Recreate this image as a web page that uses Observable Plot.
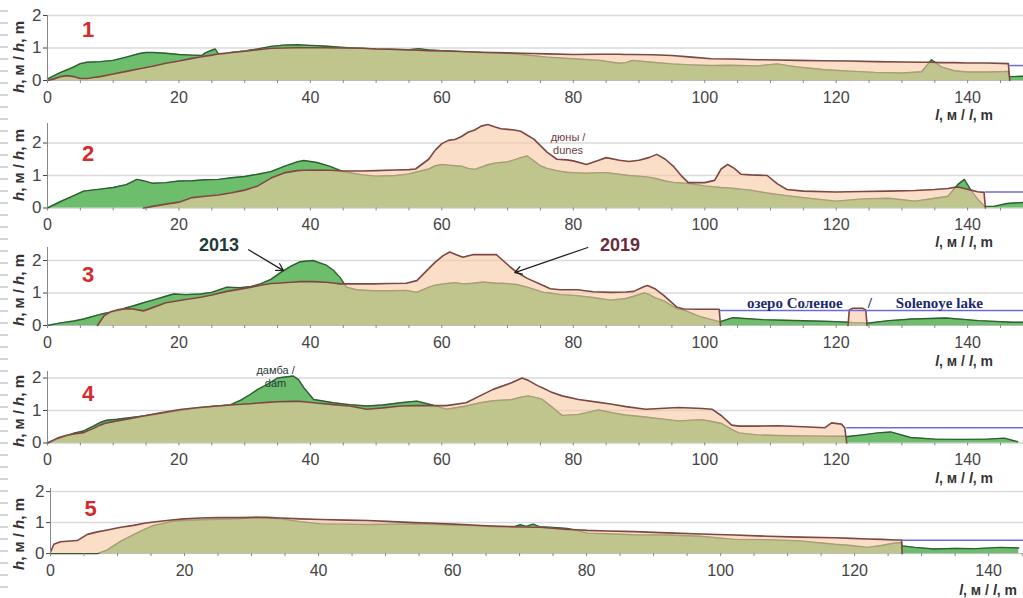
<!DOCTYPE html>
<html><head><meta charset="utf-8">
<script src="https://cdn.jsdelivr.net/npm/d3@7"></script>
<script src="https://cdn.jsdelivr.net/npm/@observablehq/plot@0.6"></script>
<style>
body{margin:0;background:#fff;font-family:"Liberation Sans",Arial,sans-serif;}
#chart{position:relative;width:1023px;height:598px;overflow:hidden;background:#fff;}
.ylab{position:absolute;left:18px;transform:translate(-50%,-50%) rotate(-90deg);font-weight:bold;font-size:15px;line-height:1;white-space:nowrap;color:#333;}
.xlab{position:absolute;font-weight:bold;font-size:14px;line-height:1;white-space:nowrap;color:#333;transform:translateY(-50%);}
.ruler{position:absolute;left:0;top:0;width:8px;height:598px;background:repeating-linear-gradient(to bottom,transparent 0 10px,#d4d4d4 10px 12px);}
</style></head><body><div id="chart"><div class="ruler"></div></div>
<script>
// ---------- data (distance l, m ; height h, m) ----------
const p1x = [0,1,2,3,4,5,6,7,8,10,12,14,15,16,18,20,22,23.5,24,25,25.5,26,27,28,30,32,33,34,36,38,40,42,45,48,50,52,55,56.5,58,60,63,66,70,72,74,76,80,84,87,88,89,92,95,98,101,104,108,111,114,118,122,126,130,133,134.5,136,138,140,143,146.2,146.4,148.5];
const p1h2013 = [0.05,0.15,0.25,0.33,0.42,0.52,0.56,0.57,0.58,0.62,0.72,0.83,0.86,0.86,0.84,0.80,0.78,0.77,0.85,0.93,0.97,0.82,0.82,0.86,0.91,0.97,1.01,1.05,1.09,1.10,1.08,1.06,1.02,0.99,0.97,0.96,0.95,0.98,0.94,0.92,0.89,0.86,0.84,0.80,0.76,0.72,0.67,0.62,0.53,0.55,0.62,0.56,0.51,0.48,0.46,0.47,0.45,0.51,0.42,0.34,0.29,0.25,0.23,0.27,0.64,0.42,0.30,0.26,0.26,0.28,0.12,0.13];
const p1h2019 = [0,0.05,0.12,0.15,0.12,0.06,0.06,0.09,0.12,0.20,0.28,0.36,0.40,0.44,0.53,0.60,0.68,0.73,0.75,0.78,0.80,0.82,0.84,0.86,0.90,0.95,0.97,0.99,1.00,1.01,1.01,1.01,1.00,0.99,0.97,0.96,0.94,0.93,0.92,0.91,0.89,0.87,0.85,0.84,0.83,0.82,0.80,0.81,0.81,0.80,0.80,0.79,0.77,0.72,0.67,0.66,0.64,0.63,0.62,0.61,0.60,0.58,0.57,0.56,0.56,0.55,0.55,0.54,0.54,0.52,0,null];

const p2x = [0,2,4,5.5,8,10,12,13.6,14.6,16,18,20,22,24,26,28,30,32,34,36,38,39,41,43,45,48,50,53,55,56,58,59,60,61,62,63,64,65,66,67,68,69,70,71,72,73,74,75,76,77.5,79,80,82,84,85,87,88.5,90,91.5,92.7,94,95.2,96.5,97.5,100,101.5,102.5,103.5,104.5,105.5,107,109.5,111,112.5,115,120,124,128,132,135,137,138.5,139.5,140.5,141.5,142.5,142.7,144,146,148.5];
const p2h2013 = [0,0.2,0.38,0.52,0.58,0.63,0.72,0.88,0.84,0.76,0.78,0.83,0.84,0.87,0.88,0.93,0.97,1.04,1.12,1.28,1.42,1.46,1.40,1.28,1.12,1.02,0.98,1.0,1.05,1.10,1.2,1.3,1.34,1.32,1.30,1.29,1.22,1.19,1.26,1.33,1.38,1.40,1.42,1.48,1.55,1.60,1.45,1.30,1.22,1.15,1.10,1.09,1.07,1.09,1.09,1.04,1.0,0.98,0.95,0.90,0.83,0.79,0.77,0.76,0.68,0.65,0.63,0.62,0.60,0.58,0.55,0.46,0.42,0.38,0.32,0.21,0.28,0.30,0.21,0.30,0.36,0.72,0.88,0.55,0.28,0.07,0.05,0.05,0.14,0.17];
const p2h2019 = [null,null,null,null,null,null,null,null,0,0.05,0.12,0.18,0.32,0.36,0.40,0.47,0.55,0.68,0.92,1.08,1.15,1.16,1.17,1.16,1.14,1.14,1.15,1.17,1.18,1.20,1.5,1.78,1.98,2.08,2.11,2.2,2.33,2.4,2.52,2.57,2.5,2.44,2.42,2.40,2.36,2.24,2.12,1.92,1.72,1.50,1.48,1.45,1.34,1.48,1.55,1.47,1.43,1.47,1.55,1.65,1.5,1.29,0.98,0.78,0.78,0.85,1.2,1.34,1.22,1.04,1.02,1.0,0.75,0.57,0.52,0.49,0.51,0.52,0.54,0.57,0.60,0.65,0.60,0.55,0.50,0.48,0,null,null,null];

const p3x = [0,2,4,5.5,7.6,8.6,9.6,10.6,12,13,14.6,16,18,19.2,21,23.3,25,27.3,29.3,31,32.4,34,35.4,37,38.4,40.4,42.4,43.5,44.5,45.5,47,49.6,52,54.6,56.2,58,59,60.2,61.2,62.2,63.2,64.7,66.3,68.3,69.3,70.4,71.4,73,75.5,76.5,78,80.6,83,85.7,88,89.2,90.8,91.3,92.5,93.8,95.8,96.8,99.2,102.2,102.4,104.3,108.9,112,116.5,120,121.8,122,122.5,124,124.5,124.7,128,131.6,136.7,141.7,146.8,148.5];
const p3h2013 = [0,0.08,0.14,0.2,0.32,0.37,0.41,0.45,0.55,0.6,0.70,0.78,0.90,0.97,0.95,0.97,1.02,1.18,1.16,1.2,1.28,1.42,1.62,1.82,1.96,2.0,1.86,1.70,1.48,1.18,1.10,1.07,1.07,1.08,1.02,1.18,1.24,1.28,1.3,1.32,1.28,1.30,1.34,1.30,1.30,1.28,1.26,1.18,1.02,1.0,0.95,0.92,0.86,0.78,0.83,0.9,1.0,0.98,0.85,0.76,0.51,0.48,0.28,0.12,0.12,0.24,0.18,0.16,0.14,0.12,0.10,0.1,0.09,0.08,0.07,0.07,0.15,0.2,0.23,0.15,0.1,0.1];
const p3h2019 = [null,null,null,null,0,0.3,0.42,0.48,0.52,0.51,0.45,0.55,0.70,0.74,0.80,0.87,0.94,1.05,1.12,1.18,1.24,1.29,1.31,1.33,1.35,1.35,1.33,1.31,1.28,1.28,1.28,1.28,1.29,1.30,1.38,1.75,1.95,2.15,2.26,2.18,2.1,2.18,2.18,2.18,2.0,1.80,1.64,1.45,1.22,1.13,1.10,1.10,1.04,1.02,1.03,1.05,1.20,1.23,1.12,0.92,0.56,0.51,0.50,0.50,0,null,null,null,null,null,0,0.48,0.53,0.53,0.48,0,null,null,null,null,null,null];

const p4x = [0,1.5,2.9,4,5.5,7,8,9,10.6,12.5,14.6,17,20.2,23,25.3,27.8,29.5,30.9,32,33.4,35,37.4,38.2,39,40.5,43.5,46,48.6,51,53.7,56.2,58.7,60.7,63.7,65.8,67.8,70.7,72.2,73.2,74.7,75.3,76.5,78.3,80.8,83.9,85.9,88,91,96,99.6,101.1,102.6,104.1,105.2,108,111.2,115,118.3,119.3,120.8,121.3,121.6,121.8,124,126.3,128.3,131.3,135,139,143,145.6,147.6];
const p4h2013 = [0,0.12,0.21,0.3,0.37,0.52,0.63,0.70,0.73,0.78,0.83,0.9,1.0,1.08,1.13,1.17,1.33,1.5,1.65,1.8,2.0,2.06,1.95,1.70,1.34,1.24,1.18,1.14,1.17,1.24,1.29,1.16,1.04,1.14,1.24,1.30,1.34,1.42,1.45,1.38,1.34,1.15,0.85,0.88,1.02,0.93,0.86,0.80,0.68,0.72,0.66,0.60,0.42,0.31,0.25,0.23,0.22,0.21,0.21,0.21,0.21,0.2,0.2,0.25,0.31,0.34,0.17,0.12,0.11,0.12,0.15,0.04];
const p4h2019 = [0,0.15,0.24,0.28,0.32,0.45,0.55,0.62,0.68,0.75,0.83,0.92,1.03,1.09,1.13,1.17,1.19,1.21,1.23,1.25,1.27,1.28,1.28,1.27,1.24,1.18,1.14,1.04,1.08,1.14,1.15,1.15,1.15,1.24,1.45,1.65,1.86,2.0,1.92,1.75,1.70,1.58,1.45,1.34,1.25,1.19,1.12,1.04,1.09,1.06,1.04,0.83,0.55,0.52,0.52,0.53,0.5,0.47,0.62,0.58,0.47,0,null,null,null,null,null,null,null,null,null,null];

const p5x = [0,0.5,1.5,2.5,4,5.5,7,8.5,9.4,10.5,12.4,14,15.4,17.4,18.4,20,22.4,25,28,30.8,32.3,34.3,37.3,40.3,44,47.3,51,54.2,57.2,60,62.2,65,67.2,69,70.1,71,72,73,75,77.1,78.5,80.1,83,87.1,92,97,102,107,111.9,117,119.5,121.9,124,126,127,127.1,129,131.8,135,138,141.8,144.5];
const p5h2013 = [0,0,0,0,0,0,0,0.12,0.25,0.4,0.61,0.78,0.91,1.0,1.05,1.07,1.09,1.11,1.12,1.17,1.15,1.12,1.03,0.96,0.95,0.94,0.95,0.96,0.94,0.92,0.91,0.88,0.86,0.85,0.93,0.88,0.95,0.87,0.84,0.81,0.75,0.66,0.64,0.61,0.60,0.56,0.46,0.45,0.41,0.30,0.26,0.2,0.26,0.34,0.36,0.25,0.2,0.15,0.17,0.16,0.2,0.18];
const p5h2019 = [0.05,0.3,0.38,0.4,0.42,0.62,0.7,0.76,0.8,0.85,0.91,0.98,1.02,1.07,1.09,1.12,1.15,1.16,1.16,1.17,1.17,1.15,1.12,1.1,1.08,1.07,1.03,1.0,0.98,0.95,0.93,0.9,0.88,0.87,0.86,0.86,0.85,0.85,0.82,0.78,0.77,0.75,0.73,0.71,0.67,0.63,0.6,0.56,0.53,0.51,0.49,0.47,0.46,0.44,0.44,0,null,null,null,null,null,null];

// water level (lake) segments
const waterLevel = [0.46, 0.49, 0.46, 0.47, 0.43];
const waterFrom  = [146.4, 142.7, 102.4, 121.6, 127.1];
const waterTo    = [148.5, 148.5, 148.5, 148.5, 145.2];

const panelNames = ["1","2","3","4","5"];
const xTickLabels = [0,20,40,60,80,100,120,140];
const yTickLabels = [0,1,2];

// annotations
const labelYears = ["2013","2019"];
const labelDunes = "дюны /\ndunes";
const labelDam = "дамба /\ndam";
const labelLake = ["озеро Соленое","/","Solenoye lake"];

// ---------- layout ----------
const GREEN="#6cbd6c", DKGREEN="#2f5d34", PEACH="#f8c8a3", BROWN="#7b4843", BLUE="#6c6cd8", GRID="#dadada";
const layout = [
  {y0:80,  k:32.5, ymax:2.0, ml:47, xmax:148.5, num:[6.2,1.57], yl:57,  xl:115, xr:30},
  {y0:207, k:32.5, ymax:2.6, ml:47, xmax:148.5, num:[6.2,1.66], yl:165, xl:242, xr:30},
  {y0:325, k:32.5, ymax:2.4, ml:47, xmax:148.5, num:[6.2,1.54], yl:290, xl:361, xr:30},
  {y0:442, k:32.5, ymax:2.2, ml:47, xmax:148.5, num:[6.2,1.51], yl:411, xl:478, xr:30},
  {y0:553, k:31,   ymax:2.1, ml:50, xmax:145.2, num:[6.0,1.45], yl:534, xl:590, xr:6}
];
const series = [
  [p1x,p1h2013,p1h2019],[p2x,p2h2013,p2h2019],[p3x,p3h2013,p3h2019],[p4x,p4h2013,p4h2019],[p5x,p5h2013,p5h2019]
];
const extras = [
  [],
  [Plot.text([{x:79.2,y:2.0,t:labelDunes}], {x:"x",y:"y",text:"t",fontSize:11,lineHeight:1.2,fill:"#6b3a3a"})],
  [
    Plot.arrow([{x1:30.6,y1:2.33,x2:35.9,y2:1.69}], {x1:"x1",y1:"y1",x2:"x2",y2:"y2",stroke:"#222",strokeWidth:1.3,headLength:9}),
    Plot.arrow([{x1:82.2,y1:2.40,x2:71.1,y2:1.63}], {x1:"x1",y1:"y1",x2:"x2",y2:"y2",stroke:"#222",strokeWidth:1.3,headLength:9}),
    Plot.text([{x:26.1,y:2.46,t:labelYears[0]}], {x:"x",y:"y",text:"t",fontSize:18,fontWeight:"bold",fill:"#1e3b3b"}),
    Plot.text([{x:87.1,y:2.46,t:labelYears[1]}], {x:"x",y:"y",text:"t",fontSize:18,fontWeight:"bold",fill:"#6b2b3b"}),
    Plot.text([{x:113.7,t:labelLake[0]},{x:125.1,t:labelLake[1]},{x:135.7,t:labelLake[2]}], {x:"x",y:()=>0.68,text:"t",fontSize:15,fontWeight:"bold",fontFamily:"Liberation Serif, serif",fill:"#1b2a6b"})
  ],
  [Plot.text([{x:34.7,y:2.06,t:labelDam}], {x:"x",y:"y",text:"t",fontSize:11,lineHeight:1.2,fill:"#2a3a3a"})],
  []
];

const chart = document.getElementById("chart");
layout.forEach((L, i) => {
  const [xs, a13, a19] = series[i];
  const rows = xs.map((x, j) => ({x, h13: a13[j], h19: a19[j]}));
  const mt = 34, mb = 32;
  const plotH = L.ymax * L.k;
  const svg = Plot.plot({
    width: 1023,
    height: mt + plotH + mb,
    marginLeft: L.ml, marginRight: 0, marginTop: mt, marginBottom: mb,
    x: {domain: [0, L.xmax]},
    y: {domain: [0, L.ymax]},
    style: {background: "transparent", fontFamily: "Liberation Sans, Arial, sans-serif", fontSize: "16px", overflow: "visible"},
    marks: [
      Plot.ruleY([1, 2].filter(v => v <= L.ymax), {stroke: GRID, strokeWidth: 1.5}),
      Plot.ruleY([0], {stroke: "#bbb"}),
      Plot.areaY(rows, {x: "x", y: "h13", fill: GREEN}),
      Plot.lineY(rows, {x: "x", y: "h13", stroke: DKGREEN, strokeWidth: 1.4}),
      Plot.areaY(rows, {x: "x", y: "h19", fill: PEACH, fillOpacity: 0.6}),
      Plot.lineY(rows, {x: "x", y: "h19", stroke: BROWN, strokeWidth: 1.6}),
      Plot.ruleY([{y: waterLevel[i], x1: waterFrom[i], x2: waterTo[i]}], {y: "y", x1: "x1", x2: "x2", stroke: BLUE, strokeWidth: 1.5}),
      Plot.ruleX([0], {stroke: "#888"}),
      Plot.axisY({ticks: yTickLabels, tickSize: 4, tickPadding: 2, tickFormat: d => String(d), fontSize: 17, color: "#444", label: null}),
      Plot.axisX({ticks: d3.range(0, L.xmax, 5), tickSize: 3, tickFormat: () => "", color: "#888", label: null}),
      Plot.axisX({ticks: xTickLabels, tickSize: 0, tickPadding: 11, tickFormat: d => String(d), fontSize: 16, color: "#444", label: null}),
      Plot.text([{x: L.num[0], y: L.num[1], t: panelNames[i]}], {x: "x", y: "y", text: "t", fontSize: 22, fontWeight: "bold", fill: "#d42a2a"}),
      ...extras[i]
    ]
  });
  svg.style.position = "absolute";
  svg.style.left = "0px";
  svg.style.top = (L.y0 - plotH - mt) + "px";
  chart.appendChild(svg);

  const yl = document.createElement("div");
  yl.className = "ylab"; yl.style.top = L.yl + "px";
  yl.innerHTML = "<i>h</i>, м / <i>h</i>, m";
  chart.appendChild(yl);
  const xl = document.createElement("div");
  xl.className = "xlab"; xl.style.top = L.xl + "px"; xl.style.right = L.xr + "px";
  xl.innerHTML = "<i>l</i>, м / <i>l</i>, m";
  chart.appendChild(xl);
});
</script></body></html>
